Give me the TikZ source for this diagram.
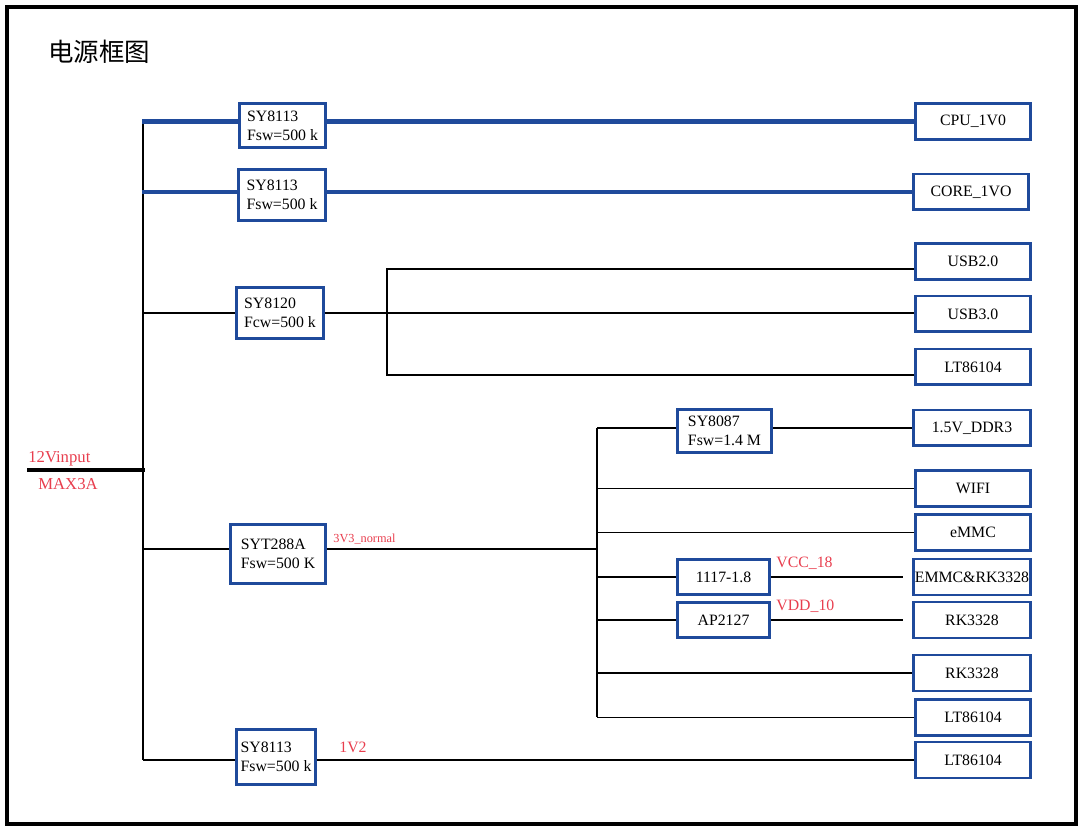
\documentclass[tikz,border=0pt]{standalone}
\usepackage{fontspec}
\setmainfont{Liberation Serif}
\newfontfamily\cjk{Noto Sans CJK SC}
\usepackage{xcolor}
\usepackage{tikz}
\usetikzlibrary{positioning,calc}
\definecolor{boxblue}{RGB}{31,74,155}
\definecolor{labelred}{RGB}{232,62,78}

\begin{document}
\begin{tikzpicture}[
    x=0.02cm, y=-0.02cm,
    node font=\fontsize{9}{10.8}\selectfont,
    wire/.style={draw, line width=0.7pt},
    pwr/.style={draw, boxblue, line width=2.3pt},
    conv/.style={draw=boxblue, line width=1.7pt, rectangle, align=left, inner sep=2pt},
    load/.style={draw=boxblue, line width=1.7pt, rectangle, minimum width=2.3cm, minimum height=0.72cm, inner xsep=1pt, align=center},
    tag/.style={anchor=base west, inner sep=0pt, text=labelred}
]
\useasboundingbox (0,0) rectangle (1082,830);
\draw[line width=2.5pt] (7,7) rectangle (1076,824);

\node[anchor=base west, inner sep=0pt, font=\cjk\fontsize{14.5}{17}\selectfont] (title) at (48,62) {电源框图};

% converters
\node[conv, minimum width=1.72cm, minimum height=0.88cm] (sya) at (282.5,125.5) {SY8113\\Fsw=500 k};
\node[conv, minimum width=1.74cm, minimum height=1.02cm] (syb) at (282,195) {SY8113\\Fsw=500 k};
\node[conv, minimum width=1.74cm, minimum height=1.02cm] (syc) at (280,313) {SY8120\\Fcw=500 k};
\node[conv, minimum width=1.90cm, minimum height=1.18cm] (syt) at (278,554) {SYT288A\\Fsw=500 K};
\node[conv, minimum width=1.58cm, minimum height=1.10cm] (syd) at (276,757) {SY8113\\Fsw=500 k};
\node[conv, minimum width=1.88cm, minimum height=0.86cm] (sye) at (724.5,431) {SY8087\\Fsw=1.4 M};
\node[conv, minimum width=1.84cm, minimum height=0.70cm, align=center] (ldo) at (723.5,577) {1117-1.8};
\node[conv, minimum width=1.84cm, minimum height=0.70cm, align=center] (ap) at (723.5,620) {AP2127};

% loads
\node[load] (cpu) at (973,121.5) {CPU\_1V0};
\node[load] (core) at (971,192) {CORE\_1VO};
\node[load] (usbb) at (973,261.5) {USB2.0};
\node[load] (usbc) at (973,314) {USB3.0};
\node[load] (lta) at (973,367) {LT86104};
\node[load, minimum width=2.34cm] (ddr) at (972,428) {1.5V\_DDR3};
\node[load] (wifi) at (973,488.5) {WIFI};
\node[load] (emmc) at (973,532.5) {eMMC};
\node[load, minimum width=2.34cm, inner xsep=0pt] (emrk) at (972,577) {EMMC\&RK3328};
\node[load, minimum width=2.34cm] (rka) at (972,620) {RK3328};
\node[load, minimum width=2.34cm] (rkb) at (972,673) {RK3328};
\node[load] (ltb) at (973,717.5) {LT86104};
\node[load] (ltc) at (973,760) {LT86104};

% red labels
\node[tag, font=\fontsize{9.5}{11}\selectfont] (vin) at (28,463) {12Vinput};
\node[tag, font=\fontsize{9.5}{11}\selectfont] (imax) at (38,490) {MAX3A};
\node[tag, font=\fontsize{7}{8}\selectfont] (v33) at (333,543) {3V3\_normal};
\node[tag] (vcc) at (776,568) {VCC\_18};
\node[tag] (vdd) at (776,611) {VDD\_10};
\node[tag] (v12) at (339,752) {1V2};

% buses
\coordinate (trunk) at (143,0);
\coordinate (usbx) at (387,0);
\coordinate (sub) at (597,0);
\coordinate (bar) at (27,470);
\coordinate (usbin) at ([yshift=-0.15cm]usbb.west);
\coordinate (ltin) at ([yshift=-0.16cm]lta.west);
\coordinate (sytout) at ([yshift=0.1cm]syt.east);
\coordinate (sytin) at ([yshift=0.1cm]syt.west);

\draw[line width=2.3pt] (bar) -- ([xshift=0.04cm]trunk |- bar);
\draw[wire] (trunk |- cpu) -- (trunk |- ltc);

\draw[pwr] ([xshift=-0.02cm]trunk |- cpu) -- (sya.west |- cpu);
\draw[pwr] (sya.east |- cpu) -- (cpu);
\draw[pwr] ([xshift=-0.02cm]trunk |- core) -- (syb.west |- core);
\draw[pwr] (syb.east |- core) -- (core);

\draw[wire] (trunk |- syc) -- (syc);
\draw[wire] (syc) -- (usbc.west |- syc);
\draw[wire] (usbin) -| (usbx |- ltin) -- (ltin);

\draw[wire] (trunk |- sytin) -- (sytin);
\draw[wire] (sytout) -- (sub |- sytout);
\draw[wire] (sub |- ddr) -- (sub |- ltb);
\draw[wire] (sub |- ddr) -- (sye.west |- ddr);
\draw[wire] (sye.east |- ddr) -- (ddr);
\draw[wire] (sub |- wifi) -- (wifi);
\draw[wire] (sub |- emmc) -- (emmc);
\draw[wire] (sub |- ldo) -- (ldo);
\draw[wire, shorten >=0.18cm] (ldo) -- (emrk);
\draw[wire] (sub |- ap) -- (ap);
\draw[wire, shorten >=0.18cm] (ap) -- (rka);
\draw[wire] (sub |- rkb) -- (rkb);
\draw[wire] (sub |- ltb) -- (ltb);

\draw[wire] (trunk |- ltc) -- (syd.west |- ltc);
\draw[wire] (syd.east |- ltc) -- (ltc);

\end{tikzpicture}
\end{document}
